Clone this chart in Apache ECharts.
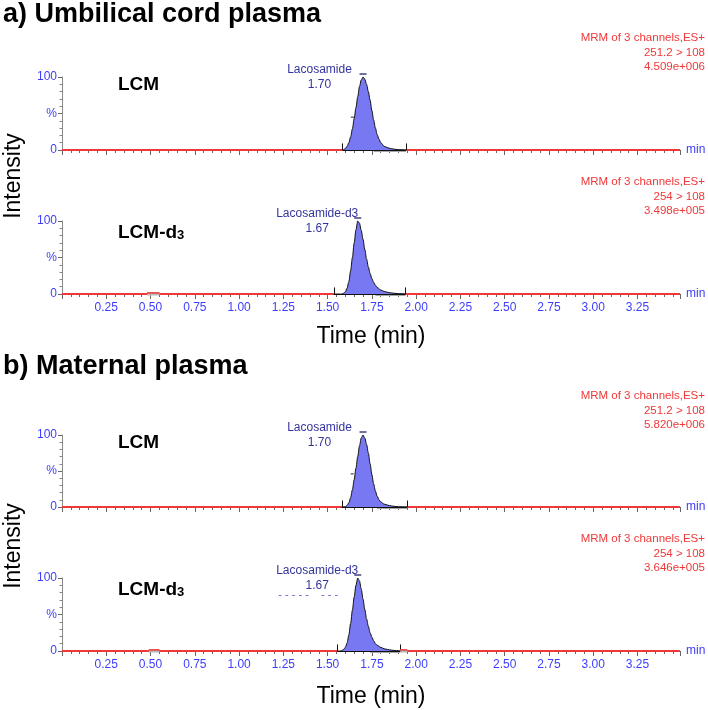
<!DOCTYPE html>
<html><head><meta charset="utf-8">
<script src="https://cdn.jsdelivr.net/npm/echarts/dist/echarts.min.js"></script>
<style>html,body{margin:0;padding:0;background:#fff}#c{width:708px;height:710px}</style>
</head><body><div id="c"></div><script>
// ---------- data ----------
const xMin = 0, xMax = 3.49;
const groupTitles = ['a) Umbilical cord plasma', 'b) Maternal plasma'];
const xAxisTitle = 'Time (min)';
const yAxisTitle = 'Intensity';
const headerLine = 'MRM of 3 channels,ES+';
const tags = ['LCM', 'LCM-d3', 'LCM', 'LCM-d3'];
const compounds = ['Lacosamide', 'Lacosamide-d3', 'Lacosamide', 'Lacosamide-d3'];
const retTimes = [1.70, 1.67, 1.70, 1.67];
const transitions = ['251.2 > 108', '254 > 108', '251.2 > 108', '254 > 108'];
const scaleMax = ['4.509e+006', '3.498e+005', '5.820e+006', '3.646e+005'];
const yTickLabels = {0: '0', 50: '%', 100: '100'};

const peakT1 = [1.59,1.60,1.61,1.62,1.63,1.64,1.65,1.66,1.67,1.68,1.69,1.70,1.71,1.72,1.73,1.74,1.75,1.76,1.77,1.78,1.79,1.80,1.82,1.84,1.86,1.88,1.90,1.92];
const peakI1 = [0.5,2,5,10,18,29,43,58,73,87,96,100,97,90,80,68,54,41,30,21,15,10,5,3,1.8,1,0.5,0.2];
const peakT2 = [1.58,1.59,1.60,1.61,1.62,1.63,1.64,1.65,1.66,1.67,1.68,1.69,1.70,1.71,1.72,1.73,1.74,1.75,1.76,1.77,1.78,1.80,1.82,1.84,1.86,1.88,1.90,1.92];
const peakI2 = [0,1,3,8,17,32,50,70,88,100,97,87,75,61,48,37,28,21,16,12,9,5.5,3.5,2.3,1.5,0.9,0.5,0.2];
const peakT3 = [1.60,1.61,1.62,1.63,1.64,1.65,1.66,1.67,1.68,1.69,1.70,1.71,1.72,1.73,1.74,1.75,1.76,1.77,1.78,1.79,1.80,1.82,1.84,1.86,1.88,1.90];
const peakI3 = [0.5,2,6,13,24,38,54,70,85,96,100,96,87,75,60,45,32,22,15,10,7,4,2.5,1.5,0.8,0.3];
const peakT4 = [1.57,1.58,1.59,1.60,1.61,1.62,1.63,1.64,1.65,1.66,1.67,1.68,1.69,1.70,1.71,1.72,1.73,1.74,1.75,1.76,1.77,1.78,1.80,1.82,1.84,1.86,1.88];
const peakI4 = [0,0.5,2,5,11,22,38,56,74,90,100,96,85,71,57,44,34,25,19,14,10,8,5,3,2,1.2,0.6];

const intStart = [1.585, 1.535, 1.58, 1.555];
const intEnd = [1.943, 1.94, 1.95, 1.91];
const dropStart = [1.76, 1.77, 1.78, 1.74];
const flankMarks = [[1.651, 45], null, [1.650, 46], null];
const bumps = [[], [[0.48, 0.55, 1.5]], [], [[0.49, 0.55, 1.5], [1.91, 1.95, 1.5]]];

// ---------- layout / style ----------
const peaksT = [peakT1, peakT2, peakT3, peakT4];
const peaksI = [peakI1, peakI2, peakI3, peakI4];
const tops = [77, 221, 435, 578];
const heights = [73, 73, 72, 73];
const BLUE = '#3d3dff';
const RED = '#f03838';
const LBL = '#34349e';
const FONT = '"Liberation Sans", Arial, sans-serif';

const grids = [], xAxes = [], yAxes = [], series = [], graphics = [];

for (let i = 0; i < 4; i++) {
  grids.push({left: 62, right: 28, top: tops[i], height: heights[i]});
  xAxes.push({
    type: 'value', gridIndex: i, min: xMin, max: xMax, interval: 0.25,
    axisLine: {show: true, onZero: false, lineStyle: {color: '#888', width: 1}},
    axisTick: {show: true, length: 5, lineStyle: {color: '#666'}},
    minorTick: {show: true, splitNumber: 5, length: 3, lineStyle: {color: '#666'}},
    splitLine: {show: false}, minorSplitLine: {show: false},
    axisLabel: {
      show: i % 2 === 1, color: BLUE, fontSize: 12, fontFamily: FONT, margin: 8,
      showMinLabel: false, showMaxLabel: false,
      formatter: v => (v < 0.2 || v > 3.3) ? '' : v.toFixed(2)
    },
    name: 'min', nameLocation: 'end', nameGap: 6,
    nameTextStyle: {color: BLUE, fontSize: 12, fontFamily: FONT, verticalAlign: 'middle'}
  });
  yAxes.push({
    type: 'value', gridIndex: i, min: 0, max: 100, interval: 50,
    axisLine: {show: true, lineStyle: {color: '#888', width: 1}},
    axisTick: {show: true, length: 4, lineStyle: {color: '#666'}},
    minorTick: {show: true, splitNumber: 5, length: 2.5, lineStyle: {color: '#888'}},
    splitLine: {show: false}, minorSplitLine: {show: false},
    axisLabel: {color: BLUE, fontSize: 12, fontFamily: FONT, margin: 5,
      formatter: v => yTickLabels[v] !== undefined ? yTickLabels[v] : ''}
  });

  // red baseline trace (before and after the integrated peak)
  const redStyle = {type: 'line', xAxisIndex: i, yAxisIndex: i, symbol: 'none', clip: false,
    lineStyle: {color: RED, width: 2}, z: 4, silent: true, animation: false};
  series.push(Object.assign({}, redStyle, {data: [[xMin, 0], [intStart[i], 0]]}));
  series.push(Object.assign({}, redStyle, {data: [[intEnd[i], 0], [xMax, 0]]}));
  // small noise blips: grey bar on baseline with short red trace just above
  bumps[i].forEach(b => {
    series.push({type: 'line', xAxisIndex: i, yAxisIndex: i, symbol: 'none', clip: false,
      silent: true, animation: false, z: 5, lineStyle: {color: '#b8b8b8', width: 3},
      data: [[b[0], 0], [b[1], 0]]});
    series.push({type: 'line', xAxisIndex: i, yAxisIndex: i, symbol: 'none', clip: false,
      silent: true, animation: false, z: 6, lineStyle: {color: RED, width: 1.5},
      data: [[b[0], b[2]], [b[1], b[2]]]});
  });

  // integrated peak
  const pk = [[intStart[i], 0]];
  peaksT[i].forEach((t, k) => pk.push([t, peaksI[i][k]]));
  pk.push([intEnd[i], 0]);
  const rt = retTimes[i];
  const isD3 = compounds[i].indexOf('d3') >= 0;
  const mpData = [{
    coord: [rt, 100], symbol: 'rect', symbolSize: [7, 1.3], symbolOffset: [0, -3],
    itemStyle: {color: '#222266'},
    label: {show: true, position: 'left', distance: isD3 ? 37 : 40, align: 'center',
      verticalAlign: 'middle', offset: [0, 3], color: LBL, fontSize: 12, fontFamily: FONT, lineHeight: 15,
      formatter: compounds[i] + '\n' + rt.toFixed(2)}
  }];
  if (flankMarks[i]) {
    mpData.push({coord: flankMarks[i], symbol: 'rect', symbolSize: [3, 1], symbolOffset: [-2, 0],
      itemStyle: {color: '#222'}, label: {show: false}});
  }
  if (i === 3) {
    mpData.push({coord: [rt, 100], symbol: 'rect', symbolSize: [1, 1], itemStyle: {color: 'rgba(0,0,0,0)'},
      label: {show: true, position: 'left', distance: 38, align: 'center', verticalAlign: 'middle',
        offset: [-11, 17], color: '#5a5ad0', fontSize: 11, fontFamily: FONT,
        formatter: '- - - - -    - - -'}});
  }
  series.push({
    type: 'line', xAxisIndex: i, yAxisIndex: i, data: pk, symbol: 'none', clip: false,
    smooth: 0.3, smoothMonotone: 'x', silent: true, animation: false, z: 5,
    lineStyle: {color: '#111', width: 1},
    areaStyle: {color: '#7878f2', opacity: 1, origin: 'start'},
    markLine: {silent: true, symbol: 'none', label: {show: false}, animation: false, data: [
      [{coord: [dropStart[i], 0], lineStyle: {color: '#a8a8a8', width: 3, type: 'solid'}}, {coord: [intEnd[i], 0]}],
      [{coord: [intStart[i], 0], lineStyle: {color: '#111', width: 1.2, type: 'solid'}}, {coord: [intEnd[i], 0]}],
      [{coord: [intStart[i], 0], lineStyle: {color: '#111', width: 1, type: 'solid'}}, {coord: [intStart[i], 9]}],
      [{coord: [intEnd[i], 0], lineStyle: {color: '#111', width: 1, type: 'solid'}}, {coord: [intEnd[i], 9]}]
    ]},
    markPoint: {silent: true, animation: false, data: mpData}
  });

  // header text (red, right-aligned)
  [headerLine, transitions[i], scaleMax[i]].forEach((s, k) => {
    graphics.push({type: 'text', x: 705, y: tops[i] - 39 + 14.5 * k, silent: true,
      style: {text: s, fill: RED, font: '11.5px ' + FONT, align: 'right', textAlign: 'right',
        verticalAlign: 'middle', textVerticalAlign: 'middle'}});
  });
  // panel tag
  const tagTxt = isD3 ? '{b|LCM-d}{s|3}' : '{b|' + tags[i] + '}';
  graphics.push({type: 'text', x: 118, y: tops[i] + (isD3 ? 10 : 6.5), silent: true,
    style: {text: tagTxt, fill: '#000', align: 'left', textAlign: 'left', verticalAlign: 'middle', textVerticalAlign: 'middle',
      rich: {
        b: {fontSize: 19, fontWeight: 'bold', fontFamily: FONT, lineHeight: 22, verticalAlign: 'bottom', fill: '#000', color: '#000'},
        s: {fontSize: 13, fontWeight: 'bold', fontFamily: FONT, lineHeight: 12, verticalAlign: 'bottom', fill: '#000', color: '#000'}
      }}});
}

// group titles, axis titles
[15, 367].forEach((y, g) => {
  graphics.push({type: 'text', x: 3, y: y, silent: true,
    style: {text: groupTitles[g], fill: '#000', font: 'bold 27px ' + FONT,
      align: 'left', textAlign: 'left', verticalAlign: 'middle', textVerticalAlign: 'middle'}});
});
[337, 697].forEach(y => {
  graphics.push({type: 'text', x: 371, y: y, silent: true,
    style: {text: xAxisTitle, fill: '#000', font: '23px ' + FONT,
      align: 'center', textAlign: 'center', verticalAlign: 'middle', textVerticalAlign: 'middle'}});
});
[176, 546].forEach(y => {
  graphics.push({type: 'text', x: 14, y: y, rotation: Math.PI / 2, silent: true,
    style: {text: yAxisTitle, fill: '#000', font: '23px ' + FONT,
      align: 'center', textAlign: 'center', verticalAlign: 'middle', textVerticalAlign: 'middle'}});
});

const chart = echarts.init(document.getElementById('c'), null, {renderer: 'canvas'});
chart.setOption({
  animation: false, backgroundColor: '#fff',
  grid: grids, xAxis: xAxes, yAxis: yAxes, series: series, graphic: graphics
});
</script></body></html>
